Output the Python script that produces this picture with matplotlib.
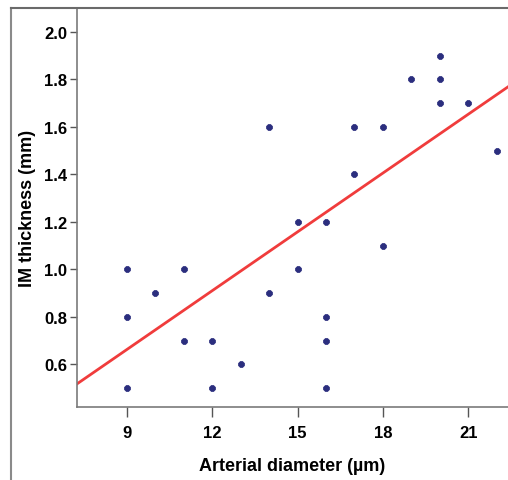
import numpy as np
import matplotlib
matplotlib.use("Agg")
import matplotlib.pyplot as plt
from matplotlib.lines import Line2D

plt.rcParams['font.family'] = ['Liberation Sans', 'DejaVu Sans']
plt.rcParams['font.weight'] = 'bold'

# arterial diameter (um) and IM thickness (mm)
diameter = [9, 9, 9, 10, 11, 11, 12, 12, 13, 14, 14, 15, 15, 16, 16, 16, 16,
            17, 17, 18, 18, 19, 20, 20, 20, 21, 22]
thickness = [0.5, 0.8, 1.0, 0.9, 1.0, 0.7, 0.7, 0.5, 0.6, 1.6, 0.9, 1.2, 1.0,
             1.2, 0.8, 0.7, 0.5, 1.6, 1.4, 1.6, 1.1, 1.8, 1.9, 1.8, 1.7, 1.7, 1.5]

# fit line as drawn in the figure
fit_slope = 0.0825
fit_intercept = -0.080

x_ticks = [9, 12, 15, 18, 21]
y_ticks = [0.6, 0.8, 1.0, 1.2, 1.4, 1.6, 1.8, 2.0]

W, H = 508, 481
fig = plt.figure(figsize=(W / 100, H / 100), dpi=100)
ax = fig.add_axes([77 / W, (H - 408) / H, 1 - 77 / W, (408 - 9) / H])

xlim = (7.24, 22.4)
ylim = (0.42, 2.1)

ax.scatter(diameter, thickness, s=20, marker='8', color='#2b2e7e',
           edgecolors='#2b2e7e', linewidths=0.6, zorder=3)

xs = np.array(xlim)
ax.plot(xs, fit_intercept + fit_slope * xs, color='#f03c3c', lw=2, zorder=2)

ax.set_xlim(*xlim)
ax.set_ylim(*ylim)
ax.set_xticks(x_ticks)
ax.set_yticks(y_ticks)
ax.set_yticklabels(['%.1f' % v for v in y_ticks])

for s in ['top', 'right']:
    ax.spines[s].set_visible(False)
for s in ['left', 'bottom']:
    ax.spines[s].set_color('#7a7a7a')
    ax.spines[s].set_linewidth(1.2)

ax.tick_params(axis='x', length=7, width=1, color='#555555', labelsize=12, pad=6)
ax.tick_params(axis='y', length=5, width=1, color='#555555', labelsize=12, pad=2)

ax.set_xlabel('Arterial diameter (µm)', fontsize=13, fontweight='bold', labelpad=12)
ax.set_ylabel('IM thickness (mm)', fontsize=13, fontweight='bold', labelpad=6)

# outer frame lines
fig.add_artist(Line2D([11 / W, 11 / W], [0, (H - 9) / H], color='#8a8a8a', lw=1.5,
                      transform=fig.transFigure))
fig.add_artist(Line2D([11 / W, 1], [(H - 9) / H, (H - 9) / H], color='#6a6a6a', lw=1.5,
                      transform=fig.transFigure))

fig.savefig('out.png', dpi=100)
